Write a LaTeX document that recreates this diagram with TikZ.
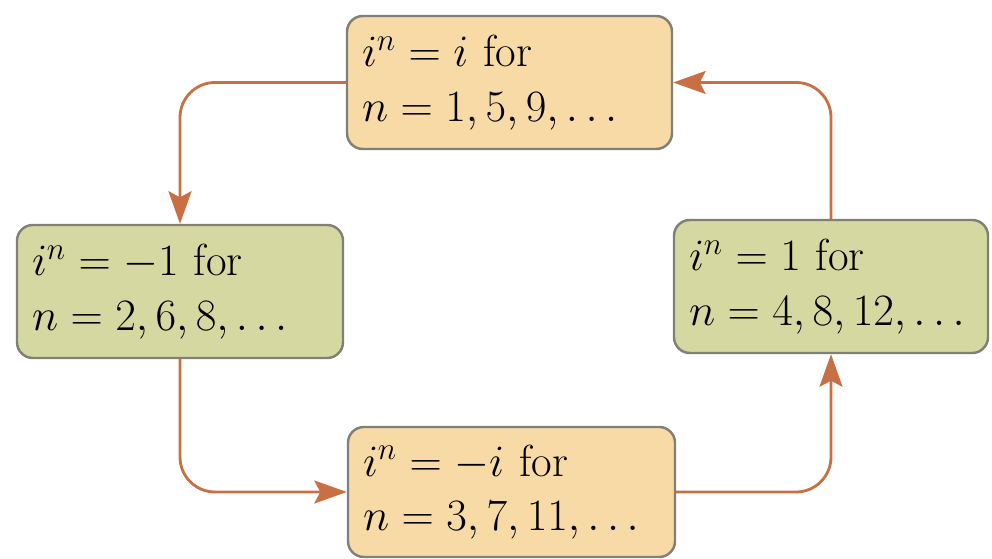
\documentclass[tikz,border=0pt]{standalone}
\usepackage{fix-cm}
\usepackage{amsmath,amssymb}
\usepackage{xcolor}
\usepackage{tikz}
\usetikzlibrary{arrows.meta}

\definecolor{peachfill}{RGB}{247,218,166}
\definecolor{olivefill}{RGB}{213,216,160}
\definecolor{rimgray}{RGB}{128,128,118}
\definecolor{arrowc}{RGB}{200,112,68}

\begin{document}
\begin{tikzpicture}[>={Stealth[length=6.5mm,width=4.6mm,inset=1.2mm]},
  pw/.style={draw=rimgray,line width=1.4pt,rounded corners=9pt,align=left,
    inner xsep=0.3cm,font=\fontsize{25.5}{31}\selectfont,minimum height=2.66cm},
  peach/.style={pw,fill=peachfill},
  olive/.style={pw,fill=olivefill},
  main/.style={->,line width=1.6pt,draw=arrowc,rounded corners=0.7cm}]
  \useasboundingbox (0,0) rectangle (19.84,11.18);
  % four powers of i, cyclic order top, left, bottom, right
  \node[peach,text width=5.9cm] (top) at (10.19,9.53)
    {$i^n = i$ for\\ $n = 1, 5, 9, \dots$};
  \node[olive,text width=5.92cm] (left) at (3.6,5.35)
    {$i^n = -1$ for\\ $n = 2, 6, 8, \dots$};
  \node[peach,text width=5.94cm,minimum height=2.6cm] (bot) at (10.23,1.34)
    {$i^n = -i$ for\\ $n = 3, 7, 11, \dots$};
  \node[olive,text width=5.68cm] (right) at (16.62,5.45)
    {$i^n = 1$ for\\ \mbox{$n = 4, 8, 12, \dots$}};
  \draw[main] (top.west) -| (left.north);
  \draw[main] (left.south) |- (bot.west);
  \draw[main] (bot.east) -| (right.south);
  \draw[main] (right.north) |- (top.east);
\end{tikzpicture}
\end{document}
